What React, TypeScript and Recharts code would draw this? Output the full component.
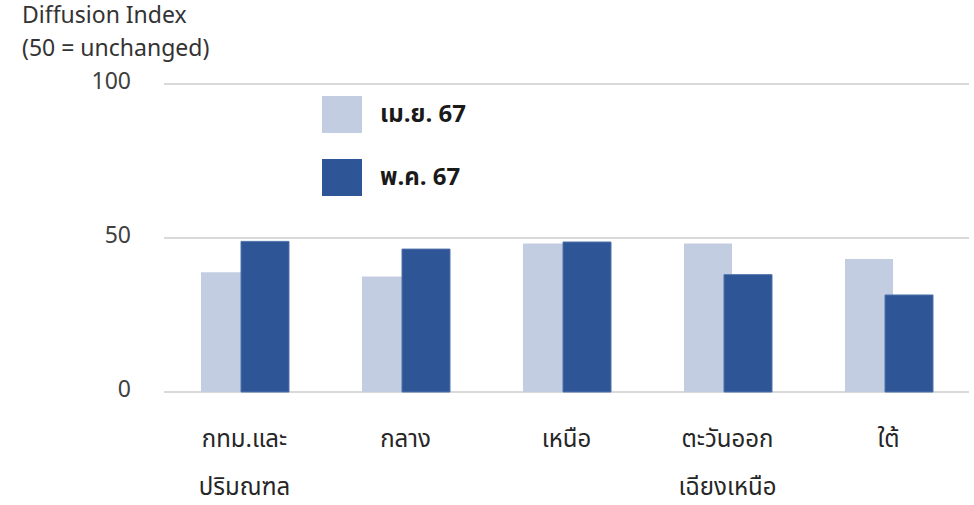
import React from "react";
import { BarChart, Bar, XAxis, YAxis, CartesianGrid, Legend } from "recharts";

// Regional diffusion index, two survey months
const categoryLines: string[][] = [
  ["กทม.และ", "ปริมณฑล"],
  ["กลาง"],
  ["เหนือ"],
  ["ตะวันออก", "เฉียงเหนือ"],
  ["ใต้"],
];
const categories: string[] = categoryLines.map((l) => l.join(""));
const aprValues: number[] = [38.9, 37.5, 48.2, 48.2, 43.2];
const mayValues: number[] = [48.9, 46.4, 48.7, 38.1, 31.5];
const seriesNames = ["เม.ย. 67", "พ.ค. 67"];
const yTicks: number[] = [0, 50, 100];

const data = categories.map((name, i) => ({
  name,
  apr: aprValues[i],
  may: mayValues[i],
}));

const FONT = "'Noto Sans Thai', 'Noto Sans', 'DejaVu Sans', sans-serif";
const LIGHT = "#c3cde2";
const DARK = "#2e5596";

const YTick = (props: any) => {
  const { x, y, payload } = props;
  return (
    <text x={x} y={y - 2} textAnchor="end" dominantBaseline="central" fontFamily={FONT} fontSize={23} fill="#404040">
      {payload.value}
    </text>
  );
};

const XTick = (props: any) => {
  const { x, y, index } = props;
  const lines = categoryLines[index] || [];
  return (
    <g>
      {lines.map((line, i) => (
        <text key={i} x={x} y={y + 55 + i * 48} textAnchor="middle" fontFamily={FONT} fontSize={24} fill="#262626">
          {line}
        </text>
      ))}
    </g>
  );
};

const LegendContent = () => {
  const items = [
    { name: seriesNames[0], color: LIGHT },
    { name: seriesNames[1], color: DARK },
  ];
  return (
    <div style={{ fontFamily: FONT }}>
      {items.map((it, i) => (
        <div key={i} style={{ display: "flex", alignItems: "center", height: 37, marginBottom: i === 0 ? 26 : 0 }}>
          <div style={{ width: 40, height: 37, background: it.color }} />
          <span style={{ marginLeft: 18, fontSize: 24, fontWeight: 700, color: "#1a1a1a" }}>{it.name}</span>
        </div>
      ))}
    </div>
  );
};

export default function App() {
  return (
    <div style={{ position: "absolute", left: 0, top: 0, width: 974, height: 505, background: "#fff" }}>
      <div style={{ position: "absolute", left: 22, top: 0, fontFamily: FONT, fontSize: 23, color: "#333", lineHeight: "33px" }}>
        <div>Diffusion Index</div>
        <div>(50 = unchanged)</div>
      </div>
      <BarChart
        width={974}
        height={505}
        data={data}
        margin={{ top: 84, right: 5, bottom: 0, left: 104 }}
        barSize={48}
        barGap={-8}
        style={{ position: "absolute", left: 0, top: 0 }}
      >
        <CartesianGrid horizontal vertical={false} stroke="#d9d9d9" strokeWidth={2} />
        <XAxis
          dataKey="name"
          axisLine={false}
          tickLine={false}
          tickSize={0}
          tickMargin={0}
          interval={0}
          tick={<XTick />}
          height={113}
        />
        <YAxis
          domain={[0, 100]}
          ticks={yTicks}
          axisLine={false}
          tickLine={false}
          tickSize={0}
          tickMargin={33}
          width={60}
          tick={<YTick />}
        />
        <Legend
          layout="vertical"
          align="center"
          verticalAlign="middle"
          content={<LegendContent />}
          wrapperStyle={{ left: 322, top: 96, width: 200, height: 140 }}
        />
        <Bar dataKey="apr" name={seriesNames[0]} fill={LIGHT} isAnimationActive={false} />
        <Bar dataKey="may" name={seriesNames[1]} fill={DARK} stroke="#4f72ab" strokeWidth={1} isAnimationActive={false} />
      </BarChart>
    </div>
  );
}
